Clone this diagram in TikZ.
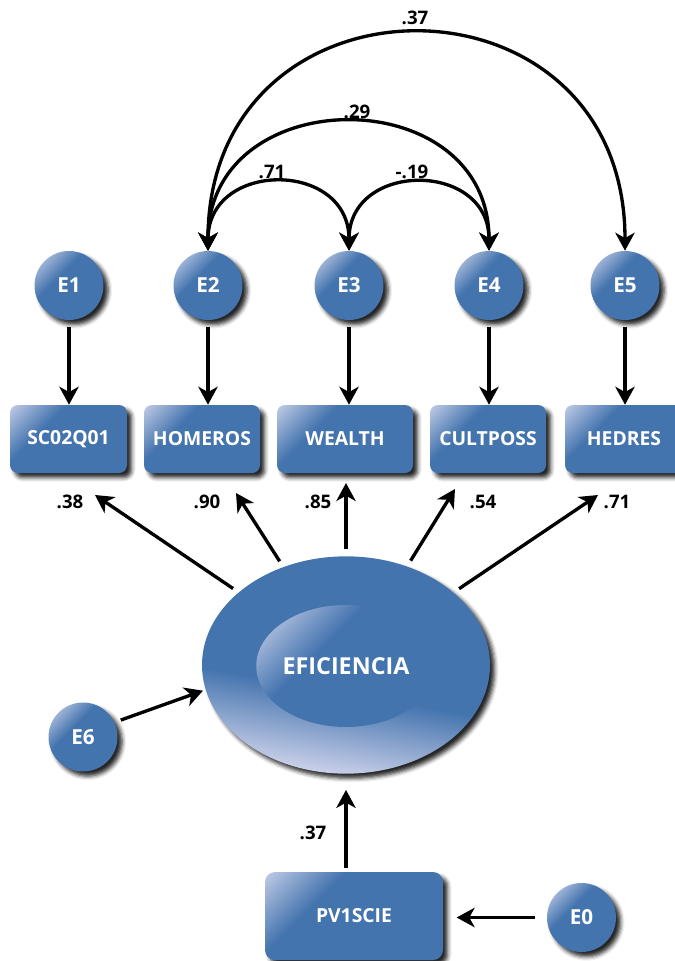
\documentclass[tikz,border=0pt]{standalone}
\usepackage{fontspec}
\setmainfont{Open Sans}
\usetikzlibrary{arrows.meta,shapes.geometric,shadows.blur}
\definecolor{sblue}{RGB}{68,116,174}
\definecolor{hlblue}{RGB}{196,206,232}
\definecolor{lav}{RGB}{208,212,236}
\pgfdeclareverticalshading{tlhl}{100bp}{color(0bp)=(sblue); color(60bp)=(sblue); color(82bp)=(hlblue); color(100bp)=(hlblue)}
\pgfdeclareverticalshading{boxhl}{100bp}{color(0bp)=(sblue); color(64bp)=(sblue); color(86bp)=(hlblue); color(100bp)=(hlblue)}
\pgfdeclareverticalshading{ellbot}{100bp}{color(0bp)=(lav); color(25bp)=(lav); color(44bp)=(sblue); color(100bp)=(sblue)}
\tikzset{
 shd/.style={blur shadow={shadow xshift=3.5pt, shadow yshift=-3.5pt, shadow blur radius=3pt, shadow opacity=85}},
 errc/.style={circle, minimum size=51.75pt, inner sep=0pt, shading=tlhl, shading angle=45, shd, text=white, font=\fontsize{15.5}{16}\selectfont\bfseries},
 obs/.style={rectangle, rounded corners=6pt, minimum height=51pt, inner sep=0pt, shading=boxhl, shading angle=45, shd, text=white, font=\fontsize{14.5}{15}\selectfont\bfseries},
 lbl/.style={font=\fontsize{14}{15}\selectfont\bfseries, text=black, inner sep=0pt},
 tip/.tip={Stealth[length=13.5pt,width=14.5pt,inset=4pt]},
 arr/.style={line width=2.5pt, -tip},
 darr/.style={line width=2.5pt, tip-tip},
}
\begin{document}
\begin{tikzpicture}[x=0.75pt,y=-0.75pt]
\useasboundingbox (0,0) rectangle (675,961);
% error circles
\node[errc] (E1) at (69,285.5) {E1};
\node[errc] (E2) at (208,285.5) {E2};
\node[errc] (E3) at (349,285.5) {E3};
\node[errc] (E4) at (489,285.5) {E4};
\node[errc] (E5) at (625,285.5) {E5};
% observed boxes
\node[obs, minimum width=87.75pt] (SC) at (68.5,439) {SC02Q01};
\node[obs, minimum width=87pt] (HO) at (202,439) {HOMEROS};
\node[obs, minimum width=102pt] (WE) at (345,439) {WEALTH};
\node[obs, minimum width=87pt] (CU) at (488,439) {CULTPOSS};
\node[obs, minimum width=88.5pt] (HE) at (624,439) {HEDRES};
% latent
\node[ellipse, minimum width=216pt, minimum height=163pt, inner sep=0pt, shading=ellbot, shading angle=-10, shd] (ell) at (346,665) {};
\node[ellipse, minimum width=121.5pt, minimum height=91.5pt, inner sep=0pt, shading=tlhl, shading angle=45, text=white, font=\fontsize{17.5}{18}\selectfont\bfseries] (inn) at (346,666) {EFICIENCIA};
\node[errc] (E6) at (83,737) {E6};
\node[obs, minimum width=133.5pt, minimum height=66pt, rounded corners=7.5pt] (PV) at (354,916) {PV1SCIE};
\node[errc] (E0) at (581.5,917.5) {E0};
% error -> indicator
\foreach \e/\b in {E1/SC,E2/HO,E3/WE,E4/CU,E5/HE}
  \draw[arr, shorten <=5pt] (\e.south) -- (\e.south |- \b.north);
% covariances
\draw[darr] (E2.north) to[out=90,in=90,looseness=1.65] (E3.north);
\draw[darr] (E3.north) to[out=90,in=90,looseness=1.65] (E4.north);
\draw[darr] (E2.north) to[out=90,in=90,looseness=1.56] (E4.north);
\draw[darr] (E2.north) to[out=90,in=90,looseness=1.78] (E5.north);
\node[lbl] (c1) at (272,172) {.71};
\node[lbl] (c2) at (412,172) {-.19};
\node[lbl] (c3) at (357,112) {.29};
\node[lbl] (c4) at (415,18) {.37};
% loadings
\coordinate (t1) at (95,495);
\coordinate (t2) at (236,493);
\coordinate (t3) at (346,483);
\coordinate (t4) at (455,489);
\coordinate (t5) at (598,495);
\foreach \t in {t1,t2,t3,t4,t5}
  \draw[arr, shorten <=5pt] (ell) -- (\t);
\node[lbl] (l1) at (70,502) {.38};
\node[lbl] (l2) at (207,502) {.90};
\node[lbl] (l3) at (318,502) {.85};
\node[lbl] (l4) at (483,502) {.54};
\node[lbl] (l5) at (617,502) {.71};
% E6 -> latent
\draw[arr, shorten <=5pt, shorten >=2pt] (E6.25) -- (ell.190);
% PV1SCIE -> latent
\draw[arr, shorten <=3pt, shorten >=12pt] (PV.north -| ell.south) -- (ell.south);
\node[lbl] (l6) at (313,833) {.37};
% E0 -> PV1SCIE
\draw[arr, shorten <=9pt, shorten >=10pt] (E0) -- (E0 -| PV.east);
\end{tikzpicture}
\end{document}
